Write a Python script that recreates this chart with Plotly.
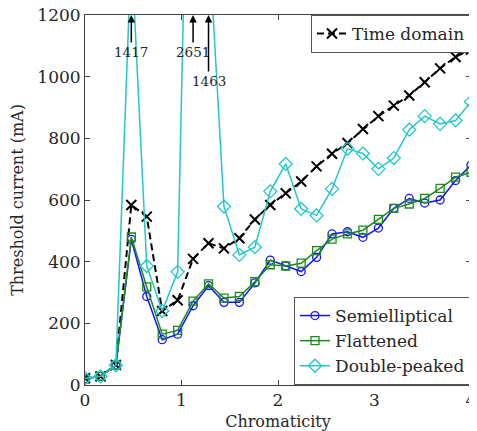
import plotly.graph_objects as go

chromaticity = [0.00, 0.16, 0.32, 0.48, 0.64, 0.80, 0.96, 1.12, 1.28, 1.44, 1.60, 1.76, 1.92,
                2.08, 2.24, 2.40, 2.56, 2.72, 2.88, 3.04, 3.20, 3.36, 3.52, 3.68, 3.84, 4.00]

time_domain = [22, 28, 65, 584, 546, 240, 275, 409, 460, 443, 476, 537, 584,
               622, 660, 709, 750, 785, 830, 872, 906, 939, 982, 1027, 1064, 1088]

semielliptical = [20, 28, 64, 472, 287, 147, 165, 257, 322, 268, 268, 331, 405,
                  386, 368, 414, 490, 497, 479, 509, 573, 605, 590, 600, 663, 713]

flattened = [20, 28, 64, 480, 318, 165, 177, 272, 328, 282, 287, 335, 390,
             386, 395, 436, 473, 490, 502, 537, 573, 587, 605, 638, 674, 690]

double_peaked = [22, 28, 64, 1417, 386, 240, 367, 2651, 1463, 579, 422, 447, 628,
                 717, 571, 550, 636, 766, 751, 701, 736, 828, 872, 847, 858, 919]

y_max = 1200
x_ticks = [0, 1, 2, 3, 4]
y_ticks = [0, 200, 400, 600, 800, 1000, 1200]

FONT = "DejaVu Serif"
TXT = "#262626"

fig = go.Figure()

fig.add_trace(go.Scatter(
    x=chromaticity, y=time_domain, name="Time domain", mode="lines+markers",
    line=dict(color="black", width=2, dash="7px,4px"),
    marker=dict(symbol="x-thin-open", size=10, line=dict(color="black", width=2)),
    legend="legend", showlegend=True))

fig.add_trace(go.Scatter(
    x=chromaticity, y=semielliptical, name="Semielliptical", mode="lines+markers",
    line=dict(color="#1414ff", width=1.5),
    marker=dict(symbol="circle-open", size=8, line=dict(color="#1414ff", width=1.3)),
    legend="legend2", showlegend=True))

fig.add_trace(go.Scatter(
    x=chromaticity, y=flattened, name="Flattened", mode="lines+markers",
    line=dict(color="#1a8c1a", width=1.5),
    marker=dict(symbol="square-open", size=8, line=dict(color="#1a8c1a", width=1.3)),
    legend="legend2", showlegend=True))

fig.add_trace(go.Scatter(
    x=chromaticity, y=double_peaked, name="Double-peaked", mode="lines+markers",
    line=dict(color="#22c8c8", width=1.5),
    marker=dict(symbol="diamond-open", size=10, line=dict(color="#22c8c8", width=1.3)),
    legend="legend2", showlegend=True))

# arrows for off-scale values
for xv, yv in zip(chromaticity, double_peaked):
    if yv > y_max:
        ty = 986 if yv == 1463 else 1080
        fig.add_annotation(
            x=xv, y=y_max, ax=xv, ay=ty, xref="x", yref="y", axref="x", ayref="y",
            text=str(yv), showarrow=True, arrowhead=2, arrowsize=1, arrowwidth=1.5,
            arrowcolor="black", standoff=0, startstandoff=0,
            font=dict(family=FONT, size=13.5, color=TXT))

axis_common = dict(
    showgrid=False, zeroline=False, showline=True, linecolor="#444", linewidth=1,
    mirror="ticks", ticks="inside", ticklen=5, tickwidth=1, tickcolor="#444",
    automargin=False, ticklabeloverflow="allow",
    tickfont=dict(family=FONT, size=17, color=TXT))

fig.update_xaxes(range=[0, 4], tickvals=x_ticks, ticktext=[str(v) for v in x_ticks],
                 title=dict(text="Chromaticity", font=dict(family=FONT, size=16, color=TXT)),
                 **axis_common)
fig.update_yaxes(range=[0, y_max], tickvals=y_ticks, ticktext=[str(v) for v in y_ticks],
                 title=dict(text="Threshold current (mA)", font=dict(family=FONT, size=16, color=TXT)),
                 **axis_common)

legend_common = dict(bgcolor="white", bordercolor="#555", borderwidth=1,
                     font=dict(family=FONT, size=17, color=TXT), tracegroupgap=0)

# the page adds an 8px body margin, so the figure is sized/offset to compensate
fig.update_layout(
    width=469, height=423,
    margin=dict(l=77, r=6, t=7, b=46),
    plot_bgcolor="white", paper_bgcolor="white",
    showlegend=True,
    legend=dict(x=1, y=1, xanchor="right", yanchor="top", **legend_common),
    legend2=dict(x=1, y=0, xanchor="right", yanchor="bottom", **legend_common),
)

fig.write_html("out.html")
